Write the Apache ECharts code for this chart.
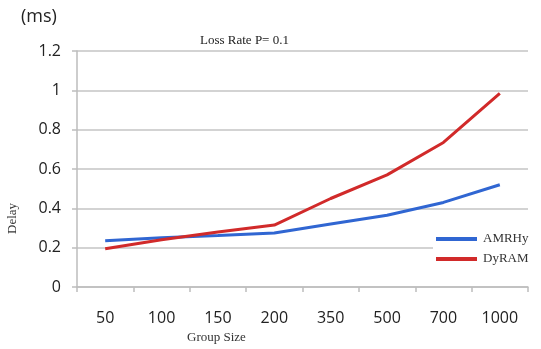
<!DOCTYPE html>
<html>
<head>
<meta charset="utf-8">
<script src="https://cdn.jsdelivr.net/npm/echarts@6/dist/echarts.min.js"></script>
<style>
  html, body { margin: 0; padding: 0; background: #fff; }
  #chart { width: 541px; height: 349px; }
</style>
</head>
<body>
<div id="chart"></div>
<script>
"use strict";

//
// Data
//
const group_sizes = ["50", "100", "150", "200", "350", "500", "700", "1000"];
const delay_amrhy = [0.235, 0.25, 0.262, 0.275, 0.32, 0.365, 0.43, 0.52];
const delay_dyram = [0.195, 0.24, 0.28, 0.315, 0.45, 0.57, 0.735, 0.985];

const color_blue = "#3066d2";
const color_red = "#d12a2a";
const sans = "'Open Sans', 'Noto Sans', sans-serif";
const serif = "'Liberation Serif', 'DejaVu Serif', serif";

const chart = echarts.init(document.getElementById("chart"));

chart.setOption({
  animation: false,
  backgroundColor: "#fff",
  grid: { left: 77, right: 13, top: 51, bottom: 62 },
  title: [
    {
      text: "Loss Rate P= 0.1",
      left: 195,
      top: 29,
      textStyle: { fontFamily: serif, fontSize: 13, fontWeight: "normal", color: "#222" },
    },
  ],
  graphic: [
    {
      type: "text",
      left: 21,
      top: 8,
      style: { text: "(ms)", font: "18px " + sans, fill: "#222" },
    },
    {
      type: "text",
      left: 187,
      top: 331,
      style: { text: "Group Size", font: "13px " + serif, fill: "#333" },
    },
    {
      type: "text",
      x: 6,
      y: 234,
      rotation: Math.PI / 2,
      style: { text: "Delay", font: "13px " + serif, fill: "#333" },
    },
  ],
  legend: {
    orient: "vertical",
    left: 433,
    top: 230,
    padding: [2, 4, 4, 3],
    backgroundColor: "#fff",
    itemWidth: 41,
    itemHeight: 4,
    itemGap: 6,
    icon: "rect",
    textStyle: { fontFamily: serif, fontSize: 13, lineHeight: 14, color: "#333", padding: [0, 0, 0, 1] },
    data: ["AMRHy", "DyRAM"],
  },
  xAxis: {
    type: "category",
    data: group_sizes,
    boundaryGap: true,
    axisLine: { lineStyle: { color: "#bdbdbd", width: 1.5 } },
    axisTick: { show: true, length: 5, lineStyle: { color: "#bdbdbd", width: 1.5 } },
    axisLabel: { margin: 23, fontFamily: sans, fontSize: 16, color: "#222" },
    splitLine: { show: false },
  },
  yAxis: {
    type: "value",
    min: 0,
    max: 1.2,
    interval: 0.2,
    axisLine: { show: true, lineStyle: { color: "#bdbdbd", width: 1.5 } },
    axisTick: { show: true, length: 5, lineStyle: { color: "#bdbdbd", width: 1.5 } },
    axisLabel: { margin: 16, fontFamily: sans, fontSize: 16, color: "#222" },
    splitLine: { show: true, lineStyle: { color: "#c4c4c4", width: 1.5 } },
  },
  series: [
    {
      name: "AMRHy",
      type: "line",
      data: delay_amrhy,
      symbol: "none",
      z: 3,
      lineStyle: { color: color_blue, width: 3 },
      itemStyle: { color: color_blue },
    },
    {
      name: "DyRAM",
      type: "line",
      data: delay_dyram,
      symbol: "none",
      z: 4,
      lineStyle: { color: color_red, width: 3 },
      itemStyle: { color: color_red },
    },
  ],
});
</script>
</body>
</html>
